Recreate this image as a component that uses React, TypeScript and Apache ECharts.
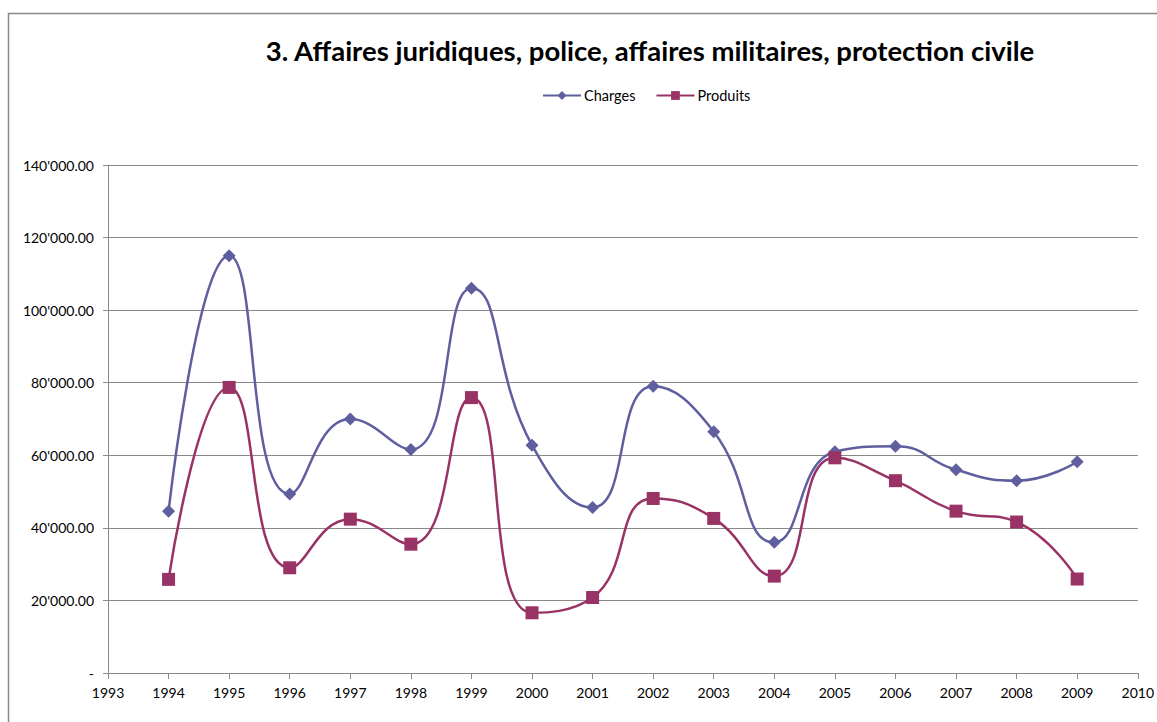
import React, { useEffect, useRef } from "react";
import * as echarts from "echarts";

const title = "3. Affaires juridiques, police, affaires militaires, protection civile";
const years = [1994, 1995, 1996, 1997, 1998, 1999, 2000, 2001, 2002, 2003, 2004, 2005, 2006, 2007, 2008, 2009];
const charges = [44600, 115000, 49300, 70000, 61600, 106000, 62800, 45600, 79000, 66500, 36000, 61000, 62500, 56000, 53000, 58200];
const produits = [25800, 78700, 29000, 42400, 35500, 75900, 16600, 20800, 48100, 42600, 26700, 59300, 53000, 44600, 41600, 25900];

const fmt = (v: number) => {
  if (v === 0) return "-";
  const s = Math.round(v).toString().replace(/\B(?=(\d{3})+(?!\d))/g, "'");
  return s + ".00";
};

export default function App() {
  const ref = useRef<HTMLDivElement>(null);
  useEffect(() => {
    document.body.style.margin = "0";
    document.body.style.overflow = "hidden";
    const chart = echarts.init(ref.current!, null, { renderer: "svg" });
    const font = "Lato, 'Open Sans', sans-serif";
    chart.setOption({
      animation: false,
      backgroundColor: "#ffffff",
      textStyle: { fontFamily: font },
      title: {
        text: title,
        left: 645,
        textAlign: "center",
        top: 31,
        textStyle: { fontSize: 27.5, fontWeight: "bold", color: "#000", fontFamily: font },
      },
      legend: {
        top: 83,
        left: 537,
        itemWidth: 38,
        itemHeight: 11,
        itemGap: 20,
        textStyle: { fontSize: 14.5, color: "#000", fontFamily: font, padding: [0, 0, 0, -2] },
        data: ["Charges", "Produits"],
      },
      graphic: [
        {
          type: "rect",
          shape: { x: 8.5, y: 13.5, width: 1200, height: 800 },
          style: { fill: "none", stroke: "#888", lineWidth: 1.5 },
          silent: true,
        },
      ],
      grid: { left: 108, right: 17, top: 165, bottom: 49, containLabel: false },
      xAxis: {
        type: "value",
        min: 1993,
        max: 2010,
        interval: 1,
        axisLine: { lineStyle: { color: "#888", width: 1 } },
        axisTick: { show: true, length: 6, inside: false, lineStyle: { color: "#888" } },
        axisLabel: { color: "#000", fontSize: 14, margin: 12, formatter: (v: number) => String(v) },
        splitLine: { show: false },
      },
      yAxis: {
        type: "value",
        min: 0,
        max: 140000,
        interval: 20000,
        axisLine: { show: true, lineStyle: { color: "#888", width: 1 } },
        axisTick: { show: true, length: 5, lineStyle: { color: "#888" } },
        axisLabel: { color: "#000", fontSize: 14, margin: 14, formatter: fmt },
        splitLine: { show: true, lineStyle: { color: "#888", width: 1 } },
      },
      series: [
        {
          name: "Charges",
          type: "line",
          data: years.map((y, i) => [y, charges[i]]),
          smooth: 0.5,
          symbol: "diamond",
          symbolSize: 13,
          itemStyle: { color: "#5f5f9f" },
          lineStyle: { color: "#5f5f9f", width: 2.5 },
        },
        {
          name: "Produits",
          type: "line",
          data: years.map((y, i) => [y, produits[i]]),
          smooth: 0.5,
          symbol: "rect",
          symbolSize: 13,
          itemStyle: { color: "#993366" },
          lineStyle: { color: "#993366", width: 2.5 },
        },
      ],
    });
    return () => chart.dispose();
  }, []);
  return <div ref={ref} style={{ width: 1157, height: 722 }} />;
}
